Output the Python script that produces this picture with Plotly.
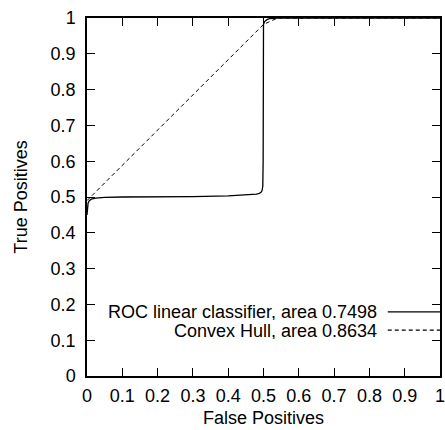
import plotly.graph_objects as go

# ROC curve (false positive rate, true positive rate)
roc_fpr = [0, 0.001, 0.003, 0.006, 0.012, 0.025, 0.05, 0.1, 0.2, 0.3, 0.4, 0.43, 0.45, 0.47,
           0.48, 0.488, 0.493, 0.496, 0.498, 0.499, 0.499, 0.4995, 0.5, 0.503, 0.507, 0.511,
           0.517, 0.525, 0.54, 0.6, 1.0]
roc_tpr = [0.45, 0.475, 0.483, 0.489, 0.494, 0.497, 0.499, 0.5, 0.5, 0.501, 0.503, 0.5045,
           0.5055, 0.507, 0.508, 0.51, 0.513, 0.518, 0.53, 0.6, 0.85, 0.97, 0.982, 0.99, 0.994,
           0.996, 0.998, 0.999, 1.0, 1.0, 1.0]

# Convex hull of the ROC curve
hull_fpr = [0, 0.5, 0.54, 1.0]
hull_tpr = [0.49, 0.982, 1.0, 1.0]

legend_labels = ["ROC linear classifier, area 0.7498", "Convex Hull, area 0.8634"]
tick_vals = [0, 0.1, 0.2, 0.3, 0.4, 0.5, 0.6, 0.7, 0.8, 0.9, 1]
tick_text = ["0", "0.1", "0.2", "0.3", "0.4", "0.5", "0.6", "0.7", "0.8", "0.9", "1"]

FONT = "Liberation Sans, Arial, Helvetica, sans-serif"

fig = go.Figure()
fig.add_trace(go.Scatter(x=roc_fpr, y=roc_tpr, mode="lines",
                         line=dict(color="black", width=1.3), showlegend=False))
fig.add_trace(go.Scatter(x=hull_fpr, y=hull_tpr, mode="lines",
                         line=dict(color="black", width=1, dash="4px,3px"), showlegend=False))

W, H = 447, 430
L, R, T, B = 87, 2, 18, 54

axis_common = dict(range=[0, 1], tickvals=tick_vals, ticktext=tick_text,
                   ticks="inside", ticklen=8, tickwidth=1.3, tickcolor="black",
                   showline=True, linecolor="black", linewidth=1.5, mirror="allticks",
                   showgrid=False, zeroline=False, fixedrange=True, layer="above traces",
                   tickfont=dict(family=FONT, size=18, color="black"))

fig.update_xaxes(**axis_common, ticklabelstandoff=3, ticklabeloverflow="allow")
fig.update_yaxes(**axis_common, ticklabelstandoff=6)

# legend (gnuplot style: right-aligned text, sample to the right)
legend_y = [0.179, 0.128]
legend_dash = ["solid", "4px,3px"]
annotations = []
shapes = []
for lab, ly, dsh in zip(legend_labels, legend_y, legend_dash):
    annotations.append(dict(x=0.826, y=ly, xref="x", yref="y", text=lab, showarrow=False,
                            xanchor="right", yanchor="middle", height=17,
                            font=dict(family=FONT, size=18, color="black")))
    shapes.append(dict(type="line", xref="x", yref="y", x0=0.852, x1=1.0, y0=ly, y1=ly,
                       line=dict(color="black", width=1.2, dash=dsh)))

annotations.append(dict(x=0.5, y=-0.085, xref="paper", yref="paper", text="False Positives",
                        showarrow=False, xanchor="center", yanchor="top",
                        font=dict(family=FONT, size=18, color="black")))
annotations.append(dict(x=-0.188, y=0.5, xref="paper", yref="paper", text="True Positives",
                        showarrow=False, xanchor="center", yanchor="middle", textangle=-90,
                        font=dict(family=FONT, size=18, color="black")))

fig.update_layout(width=W, height=H, autosize=False,
                  margin=dict(l=L, r=R, t=T, b=B, pad=0),
                  paper_bgcolor="white", plot_bgcolor="white",
                  annotations=annotations, shapes=shapes, showlegend=False)

fig.write_html("out.html", config={"displayModeBar": False},
               post_script="document.body.style.margin='0';document.body.style.overflow='hidden';")
